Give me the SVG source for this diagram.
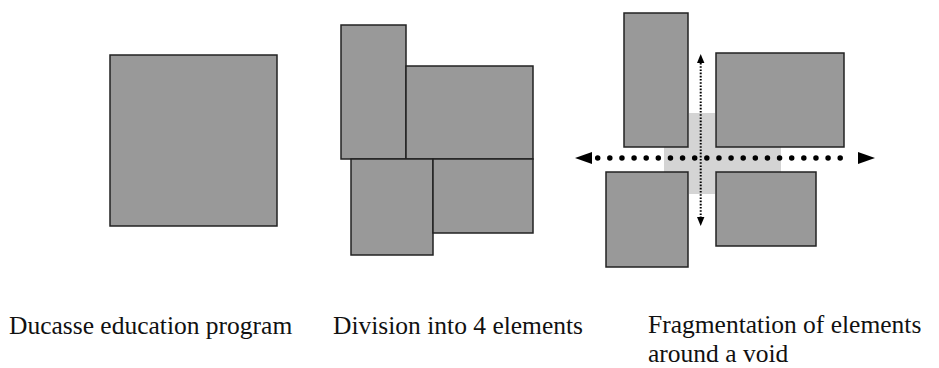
<svg xmlns="http://www.w3.org/2000/svg" width="939" height="368" viewBox="0 0 939 368">
<style>
.blk{fill:#999999;stroke:#222222;stroke-width:1.5}
.void{fill:#d4d4d4;stroke:none}
.lbl{font-family:'Liberation Serif','Times New Roman',serif;font-size:25.5px;fill:#111111}
.hdot{stroke:#000;stroke-width:5.5;stroke-linecap:round;stroke-dasharray:0 12.125;fill:none}
.vdot{stroke:#000;stroke-width:2;stroke-dasharray:1.6 1.6;fill:none}
.head{fill:#000;stroke:none}
</style>
<rect width="939" height="368" fill="#ffffff"/>
<g id="fig1-square"><rect class="blk" x="110" y="55" width="167" height="171"/></g>
<g id="fig2">
<g id="fig2-a"><rect class="blk" x="341" y="25" width="65" height="134"/></g>
<g id="fig2-b"><rect class="blk" x="406" y="66" width="127" height="93"/></g>
<g id="fig2-c"><rect class="blk" x="351" y="159" width="82" height="96"/></g>
<g id="fig2-d"><rect class="blk" x="433" y="159" width="100" height="74"/></g>
</g>
<g id="fig3">
<g id="fig3-void"><rect class="void" x="689" y="113" width="26" height="81"/><rect class="void" x="664" y="147" width="117" height="25"/></g>
<g id="fig3-a"><rect class="blk" x="624" y="13" width="64" height="134"/></g>
<g id="fig3-b"><rect class="blk" x="716" y="53" width="128" height="94"/></g>
<g id="fig3-c"><rect class="blk" x="606" y="172" width="82" height="95"/></g>
<g id="fig3-d"><rect class="blk" x="716" y="172" width="100" height="74"/></g>
</g>
<g id="connectors">
<line class="hdot" x1="597.7" y1="158" x2="852.3" y2="158"/>
<polygon class="head" points="575,158 592,152 592,164"/>
<polygon class="head" points="875,158 858,152 858,164"/>
<line class="vdot" x1="700.7" y1="63" x2="700.7" y2="217"/>
<polygon class="head" points="700.7,54 697,63 704.4,63"/>
<polygon class="head" points="700.7,226 697,217 704.4,217"/>
</g>
<g id="labels">
<text class="lbl" font-family="Liberation Serif, serif" x="9" y="334">Ducasse education program</text>
<text class="lbl" font-family="Liberation Serif, serif" x="333" y="334">Division into 4 elements</text>
<text class="lbl" font-family="Liberation Serif, serif" x="648" y="333">Fragmentation of elements</text>
<text class="lbl" font-family="Liberation Serif, serif" x="648" y="362">around a void</text>
</g>
</svg>
